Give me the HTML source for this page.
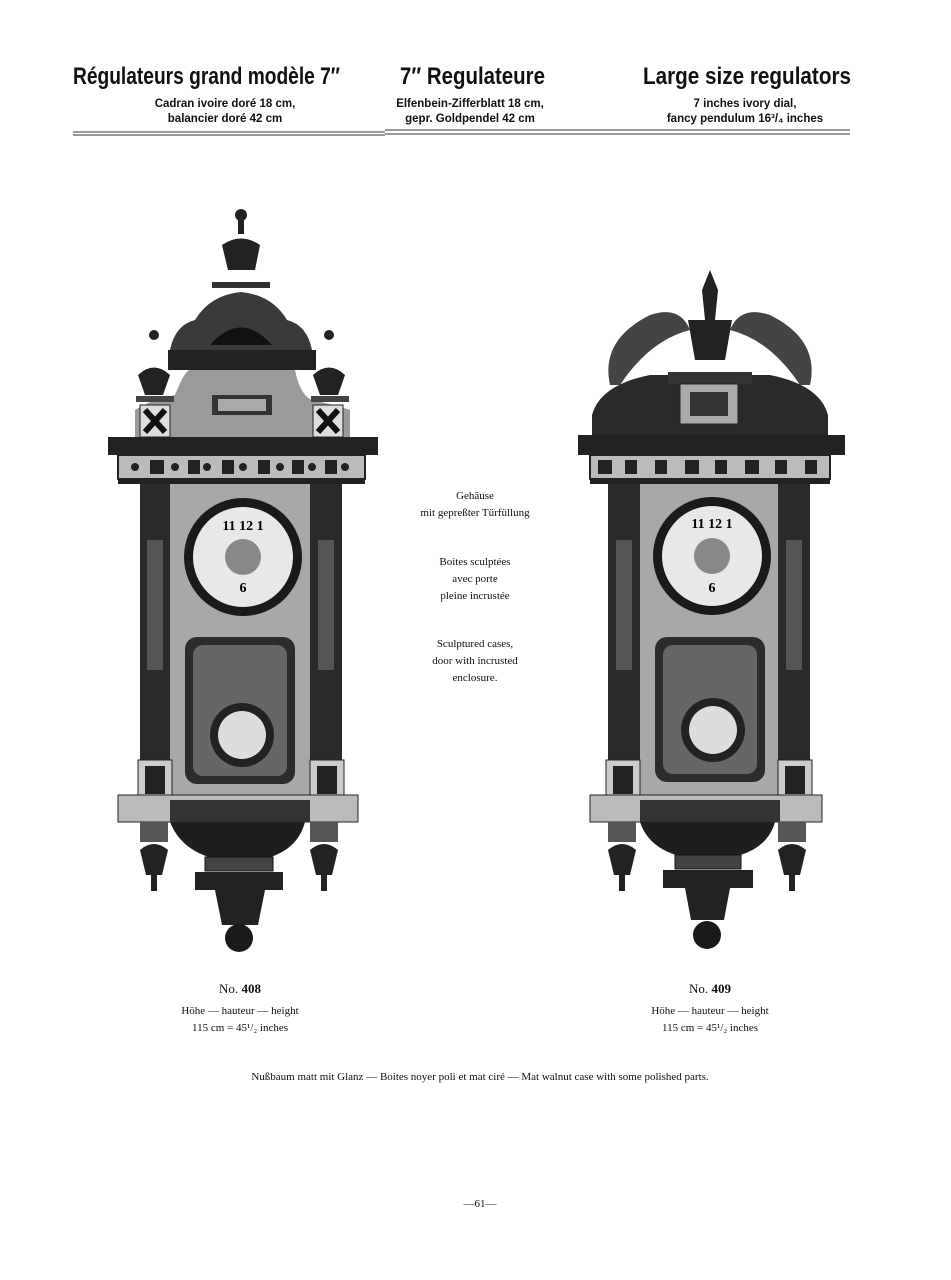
<!DOCTYPE html>
<html><head><meta charset="utf-8"><style>
body{margin:0;width:951px;height:1280px;background:#fff;position:relative;overflow:hidden;font-family:"Liberation Serif",serif;color:#111}
.t{position:absolute;text-align:center;font-family:"Liberation Sans",sans-serif;font-weight:bold}
.s{font-size:11.5px;line-height:15px;top:97px}
.c{position:absolute;text-align:center;font-size:11px;line-height:17px}
svg{position:absolute;left:0;top:0}
</style></head><body>
<div class="t s" style="left:100px;width:250px">Cadran ivoire doré 18 cm,<br>balancier doré 42 cm</div>
<div class="t s" style="left:345px;width:250px">Elfenbein-Zifferblatt 18 cm,<br>gepr. Goldpendel 42 cm</div>
<div class="t s" style="left:620px;width:250px">7 inches ivory dial,<br>fancy pendulum 16³/₄ inches</div>
<svg width="951" height="1280">
<g font-family="Liberation Sans, sans-serif" font-weight="bold" font-size="24" fill="#111" lengthAdjust="spacingAndGlyphs">
<text x="73" y="84" textLength="267" lengthAdjust="spacingAndGlyphs">Régulateurs grand modèle 7″</text>
<text x="400" y="84" textLength="145" lengthAdjust="spacingAndGlyphs">7″ Regulateure</text>
<text x="643" y="84" textLength="208" lengthAdjust="spacingAndGlyphs">Large size regulators</text>
</g>
<g stroke="#333" stroke-width="1"><line x1="73" y1="132" x2="385" y2="132"/><line x1="73" y1="135" x2="385" y2="135"/><line x1="385" y1="130" x2="850" y2="130"/><line x1="385" y1="134" x2="850" y2="134"/></g>
<!-- left clock -->
<g>
<circle cx="241" cy="215" r="6" fill="#222"/><rect x="238" y="220" width="6" height="14" fill="#222"/>
<path d="M222 245 Q241 232 260 245 L255 270 L228 270Z" fill="#222"/><rect x="212" y="282" width="58" height="6" fill="#333"/>
<path d="M170 350 Q175 325 195 320 Q210 295 241 292 Q272 295 287 320 Q307 325 312 350Z" fill="#3a3a3a"/>
<path d="M210 345 Q241 310 272 345Z" fill="#111"/>
<rect x="168" y="350" width="148" height="20" fill="#222"/>
<path d="M135 440 L135 410 Q150 400 175 395 Q185 370 190 370 L295 370 Q300 395 312 400 Q335 405 350 410 L350 440Z" fill="#9a9a9a"/>
<rect x="212" y="395" width="60" height="20" fill="#333"/><rect x="218" y="399" width="48" height="12" fill="#aaa"/>
<rect x="140" y="405" width="30" height="32" fill="#ddd" stroke="#222"/><path d="M145 410 L165 432 M165 410 L145 432" stroke="#111" stroke-width="6"/>
<rect x="313" y="405" width="30" height="32" fill="#ddd" stroke="#222"/><path d="M318 410 L338 432 M338 410 L318 432" stroke="#111" stroke-width="6"/>
<circle cx="154" cy="335" r="5" fill="#222"/><path d="M138 375 Q154 360 170 375 L163 395 L145 395Z" fill="#222"/><rect x="136" y="396" width="38" height="6" fill="#444"/>
<circle cx="329" cy="335" r="5" fill="#222"/><path d="M313 375 Q329 360 345 375 L338 395 L320 395Z" fill="#222"/><rect x="311" y="396" width="38" height="6" fill="#444"/>
<rect x="108" y="437" width="270" height="18" fill="#222"/>
<rect x="118" y="455" width="247" height="24" fill="#bbb" stroke="#222" stroke-width="2"/>
<g fill="#222"><circle cx="135" cy="467" r="4"/><circle cx="175" cy="467" r="4"/><circle cx="207" cy="467" r="4"/><circle cx="243" cy="467" r="4"/><circle cx="280" cy="467" r="4"/><circle cx="312" cy="467" r="4"/><circle cx="345" cy="467" r="4"/>
<rect x="150" y="460" width="14" height="14"/><rect x="188" y="460" width="12" height="14"/><rect x="222" y="460" width="12" height="14"/><rect x="258" y="460" width="12" height="14"/><rect x="292" y="460" width="12" height="14"/><rect x="325" y="460" width="12" height="14"/></g>
<rect x="118" y="478" width="247" height="6" fill="#222"/>
<rect x="165" y="484" width="155" height="315" fill="#a8a8a8"/>
<rect x="140" y="484" width="30" height="315" fill="#2a2a2a"/><rect x="147" y="540" width="16" height="130" fill="#555"/>
<rect x="310" y="484" width="32" height="315" fill="#2a2a2a"/><rect x="318" y="540" width="16" height="130" fill="#555"/>
<rect x="138" y="760" width="34" height="40" fill="#ccc" stroke="#222"/><rect x="145" y="766" width="20" height="28" fill="#222"/>
<rect x="310" y="760" width="34" height="40" fill="#ccc" stroke="#222"/><rect x="317" y="766" width="20" height="28" fill="#222"/>
<circle cx="243" cy="557" r="59" fill="#1a1a1a"/><circle cx="243" cy="557" r="50" fill="#e8e8e8"/><circle cx="243" cy="557" r="18" fill="#888"/>
<text x="243" y="530" font-size="14" text-anchor="middle" font-weight="bold">11 12 1</text><text x="243" y="592" font-size="14" text-anchor="middle" font-weight="bold">6</text>
<rect x="185" y="637" width="110" height="147" rx="12" fill="#2c2c2c"/><rect x="193" y="645" width="94" height="131" rx="10" fill="#666"/>
<circle cx="242" cy="735" r="32" fill="#222"/><circle cx="242" cy="735" r="24" fill="#ddd"/>
<rect x="118" y="795" width="240" height="27" fill="#bbb" stroke="#222"/><rect x="170" y="800" width="140" height="22" fill="#333"/>
<path d="M170 822 L305 822 Q295 860 240 862 Q185 860 170 822Z" fill="#1e1e1e"/>
<rect x="205" y="857" width="68" height="14" fill="#444" stroke="#111"/><rect x="195" y="872" width="88" height="18" fill="#222"/>
<path d="M215 890 L265 890 L258 925 L222 925Z" fill="#222"/><circle cx="239" cy="938" r="14" fill="#1a1a1a"/>
<rect x="140" y="822" width="28" height="20" fill="#555"/><path d="M140 850 Q154 838 168 850 L162 875 L146 875Z" fill="#222"/><rect x="151" y="875" width="6" height="16" fill="#222"/>
<rect x="310" y="822" width="28" height="20" fill="#555"/><path d="M310 850 Q324 838 338 850 L332 875 L316 875Z" fill="#222"/><rect x="321" y="875" width="6" height="16" fill="#222"/>
</g>
<!-- right clock -->
<g>
<path d="M702 290 L710 270 L718 290 L715 320 L705 320Z" fill="#222"/>
<path d="M688 320 L732 320 L725 360 L695 360Z" fill="#222"/>
<path d="M610 385 Q600 340 650 315 Q680 305 690 330 Q650 340 620 385Z" fill="#444"/>
<path d="M810 385 Q820 340 770 315 Q740 305 730 330 Q770 340 800 385Z" fill="#444"/>
<path d="M592 437 L592 415 Q600 385 650 375 L770 375 Q820 385 828 415 L828 437Z" fill="#2a2a2a"/>
<rect x="668" y="372" width="84" height="12" fill="#333"/><rect x="680" y="384" width="58" height="40" fill="#aaa" stroke="#222"/><rect x="690" y="392" width="38" height="24" fill="#333"/>
<rect x="578" y="435" width="267" height="20" fill="#222"/>
<rect x="590" y="455" width="240" height="24" fill="#bbb" stroke="#222" stroke-width="2"/>
<g fill="#222"><rect x="598" y="460" width="14" height="14"/><rect x="625" y="460" width="12" height="14"/><rect x="655" y="460" width="12" height="14"/><rect x="685" y="460" width="14" height="14"/><rect x="715" y="460" width="12" height="14"/><rect x="745" y="460" width="14" height="14"/><rect x="775" y="460" width="12" height="14"/><rect x="805" y="460" width="12" height="14"/></g>
<rect x="590" y="478" width="240" height="6" fill="#222"/>
<rect x="635" y="484" width="150" height="315" fill="#a8a8a8"/>
<rect x="608" y="484" width="32" height="315" fill="#2a2a2a"/><rect x="616" y="540" width="16" height="130" fill="#555"/>
<rect x="778" y="484" width="32" height="315" fill="#2a2a2a"/><rect x="786" y="540" width="16" height="130" fill="#555"/>
<rect x="606" y="760" width="34" height="40" fill="#ccc" stroke="#222"/><rect x="613" y="766" width="20" height="28" fill="#222"/>
<rect x="778" y="760" width="34" height="40" fill="#ccc" stroke="#222"/><rect x="785" y="766" width="20" height="28" fill="#222"/>
<circle cx="712" cy="556" r="59" fill="#1a1a1a"/><circle cx="712" cy="556" r="50" fill="#e8e8e8"/><circle cx="712" cy="556" r="18" fill="#888"/>
<text x="712" y="528" font-size="14" text-anchor="middle" font-weight="bold">11 12 1</text><text x="712" y="592" font-size="14" text-anchor="middle" font-weight="bold">6</text>
<rect x="655" y="637" width="110" height="145" rx="12" fill="#2c2c2c"/><rect x="663" y="645" width="94" height="129" rx="10" fill="#666"/>
<circle cx="713" cy="730" r="32" fill="#222"/><circle cx="713" cy="730" r="24" fill="#ddd"/>
<rect x="590" y="795" width="232" height="27" fill="#bbb" stroke="#222"/><rect x="640" y="800" width="140" height="22" fill="#333"/>
<path d="M640 822 L775 822 Q765 858 708 860 Q652 858 640 822Z" fill="#1e1e1e"/>
<rect x="675" y="855" width="66" height="14" fill="#444" stroke="#111"/><rect x="663" y="870" width="90" height="18" fill="#222"/>
<path d="M685 888 L730 888 L724 920 L691 920Z" fill="#222"/><circle cx="707" cy="935" r="14" fill="#1a1a1a"/>
<rect x="608" y="822" width="28" height="20" fill="#555"/><path d="M608 850 Q622 838 636 850 L630 875 L614 875Z" fill="#222"/><rect x="619" y="875" width="6" height="16" fill="#222"/>
<rect x="778" y="822" width="28" height="20" fill="#555"/><path d="M778 850 Q792 838 806 850 L800 875 L784 875Z" fill="#222"/><rect x="789" y="875" width="6" height="16" fill="#222"/>
</g>
</svg>
<div class="c" style="left:370px;top:488px;width:210px">Gehäuse<br>mit gepreßter Türfüllung</div>
<div class="c" style="left:370px;top:554px;width:210px">Boites sculptées<br>avec porte<br>pleine incrustée</div>
<div class="c" style="left:370px;top:636px;width:210px">Sculptured cases,<br>door with incrusted<br>enclosure.</div>
<div class="c" style="left:120px;top:980px;width:240px;font-size:13px">No. <b>408</b></div>
<div class="c" style="left:120px;top:1003px;width:240px">Höhe — hauteur — height<br>115 cm = 45¹/₂ inches</div>
<div class="c" style="left:590px;top:980px;width:240px;font-size:13px">No. <b>409</b></div>
<div class="c" style="left:590px;top:1003px;width:240px">Höhe — hauteur — height<br>115 cm = 45¹/₂ inches</div>
<div class="c" style="left:100px;top:1069px;width:760px">Nußbaum matt mit Glanz — Boites noyer poli et mat ciré — Mat walnut case with some polished parts.</div>
<div class="c" style="left:440px;top:1196px;width:80px">—61—</div>
</body></html>
